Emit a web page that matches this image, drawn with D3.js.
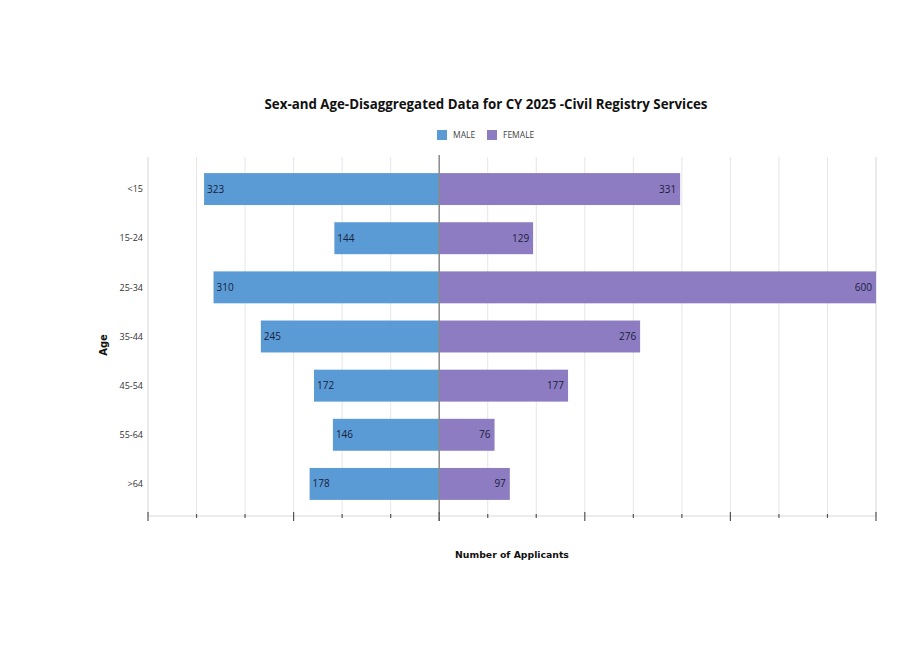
<!DOCTYPE html>
<html>
<head>
<meta charset="utf-8">
<script src="https://cdn.jsdelivr.net/npm/d3@7"></script>
<style>
  html, body { margin: 0; padding: 0; background: #fff; }
  svg { display: block; }
</style>
</head>
<body>
<svg id="chart" width="924" height="653"></svg>
<script>
const categories = ["<15", "15-24", "25-34", "35-44", "45-54", "55-64", ">64"];
const maleValues = [323, 144, 310, 245, 172, 146, 178];
const femaleValues = [331, 129, 600, 276, 177, 76, 97];
const seriesNames = ["MALE", "FEMALE"];
const seriesColors = ["#5b9bd5", "#8e7cc3"];
const gridValues = d3.range(0, 16).map(i => -400 + i * 200 / 3);
const majorTicks = [-400, -200, 0, 200, 400, 600];

const svg = d3.select("#chart");
const W = 924, H = 653;
svg.append("rect").attr("width", W).attr("height", H).attr("fill", "#fff");

const x = d3.scaleLinear().domain([-400, 600]).range([148, 876]);
const y = d3.scaleBand().domain(categories).range([164.5, 508.5]).paddingInner(0.35).paddingOuter(0.175);

const plotTop = 157, axisY = 516;

// grid
svg.append("g").selectAll("line").data(gridValues.filter(v => Math.abs(v) > 1e-6)).join("line")
  .attr("x1", d => x(d)).attr("x2", d => x(d))
  .attr("y1", plotTop).attr("y2", axisY)
  .attr("stroke", d => (Math.abs(d + 400) < 1e-6 || Math.abs(d - 600) < 1e-6) ? "#d6d6d6" : "#e6e6e6")
  .attr("stroke-width", 1);

// bars
const rows = categories.map((c, i) => ({ c, m: maleValues[i], f: femaleValues[i] }));
const g = svg.append("g");
g.selectAll("rect.m").data(rows).join("rect").attr("class", "m")
  .attr("x", d => x(-d.m)).attr("width", d => x(0) - x(-d.m))
  .attr("y", d => y(d.c)).attr("height", y.bandwidth())
  .attr("fill", seriesColors[0]);
g.selectAll("rect.f").data(rows).join("rect").attr("class", "f")
  .attr("x", x(0)).attr("width", d => x(d.f) - x(0))
  .attr("y", d => y(d.c)).attr("height", y.bandwidth())
  .attr("fill", seriesColors[1]);

const lblFont = "'Open Sans', sans-serif";
g.selectAll("text.ml").data(rows).join("text").attr("class", "ml")
  .attr("x", d => x(-d.m) + 3).attr("y", d => y(d.c) + y.bandwidth() / 2)
  .attr("dy", "0.35em").attr("font-family", lblFont).attr("font-size", 10)
  .attr("fill", "#17213a").text(d => d.m);
g.selectAll("text.fl").data(rows).join("text").attr("class", "fl")
  .attr("x", d => x(d.f) - 4).attr("y", d => y(d.c) + y.bandwidth() / 2)
  .attr("dy", "0.35em").attr("text-anchor", "end").attr("font-family", lblFont).attr("font-size", 10)
  .attr("fill", "#17213a").text(d => d.f);

// center line
svg.append("line").attr("x1", x(0)).attr("x2", x(0)).attr("y1", 155).attr("y2", 521)
  .attr("stroke", "#8a8a8a").attr("stroke-width", 1.5);

// x axis baseline & ticks
svg.append("line").attr("x1", x(-400)).attr("x2", x(600)).attr("y1", axisY).attr("y2", axisY)
  .attr("stroke", "#d9d9d9").attr("stroke-width", 1);
svg.append("g").selectAll("line").data(gridValues).join("line")
  .attr("x1", d => x(d)).attr("x2", d => x(d))
  .attr("y1", d => majorTicks.some(t => Math.abs(t - d) < 1e-6) ? axisY - 4 : axisY - 2)
  .attr("y2", d => majorTicks.some(t => Math.abs(t - d) < 1e-6) ? axisY + 5 : axisY + 2)
  .attr("stroke", "#555").attr("stroke-width", 1.2);

// y axis labels
svg.append("g").selectAll("text").data(categories).join("text")
  .attr("x", 143).attr("y", d => y(d) + y.bandwidth() / 2).attr("dy", "0.35em")
  .attr("text-anchor", "end").attr("font-family", lblFont).attr("font-size", 9)
  .attr("fill", "#333").text(d => d);

// title
svg.append("text").attr("x", 486).attr("y", 109).attr("text-anchor", "middle")
  .attr("font-family", "'Open Sans', sans-serif").attr("font-weight", "bold").attr("font-size", 13.3)
  .attr("fill", "#111").text("Sex-and Age-Disaggregated Data for CY 2025 -Civil Registry Services");

// legend
const legend = svg.append("g");
const legendX = [437, 487];
seriesNames.forEach((s, i) => {
  legend.append("rect").attr("x", legendX[i]).attr("y", 130).attr("width", 10).attr("height", 10).attr("fill", seriesColors[i]);
  legend.append("text").attr("x", legendX[i] + 16).attr("y", 135).attr("dy", "0.35em")
    .attr("font-family", lblFont).attr("font-size", 8.5).attr("fill", "#444").text(s);
});

// axis titles
svg.append("text").attr("x", 512).attr("y", 558).attr("text-anchor", "middle")
  .attr("font-family", "'DejaVu Sans', sans-serif").attr("font-weight", "bold").attr("font-size", 9.3)
  .attr("fill", "#111").text("Number of Applicants");
svg.append("text").attr("transform", "translate(107,345) rotate(-90)").attr("text-anchor", "middle")
  .attr("font-family", "'DejaVu Sans', sans-serif").attr("font-weight", "bold").attr("font-size", 10)
  .attr("fill", "#111").text("Age");
</script>
</body>
</html>
